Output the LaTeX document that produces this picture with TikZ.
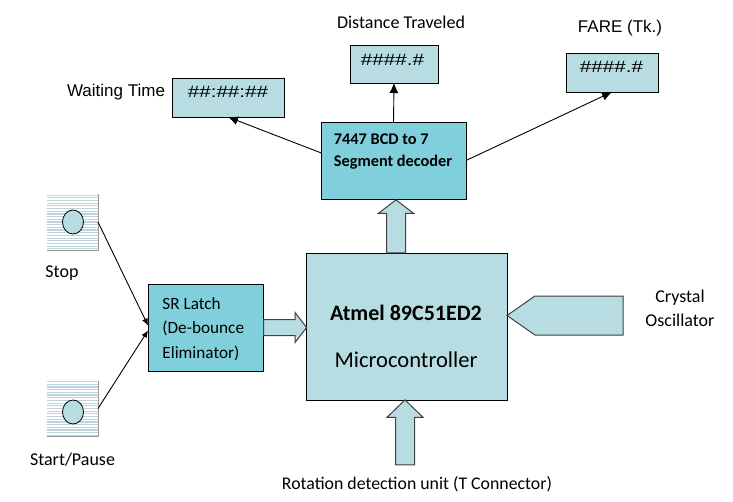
\documentclass[tikz,border=0pt]{standalone}
\usepackage{fontspec}
\setmainfont{Carlito}
\newfontfamily\arialfont{Liberation Sans}
\newfontfamily\digitfont[FakeStretch=1.25]{Liberation Sans}
\usetikzlibrary{positioning, arrows.meta, calc, shapes.arrows, shapes.symbols, shapes.geometric}
\definecolor{palebox}{HTML}{B7DDE2}
\definecolor{deepbox}{HTML}{7FD0DC}
\definecolor{stripe}{HTML}{BFD5DE}
\tikzset{
	pale/.style={draw=black, fill=palebox, line width=0.9pt, inner sep=0pt, outer sep=0pt},
	deep/.style={draw=black, fill=deepbox, line width=0.9pt, inner sep=0pt, outer sep=0pt},
	blockarrow/.style={single arrow, draw=black!75, fill=palebox, line width=1pt, inner xsep=0pt, outer sep=0pt, single arrow head indent=0pt},
	switchbox/.style={inner sep=0pt, outer sep=0pt, minimum width=51pt, minimum height=56pt},
	knob/.style={ellipse, draw=black, fill=palebox, line width=0.8pt, inner sep=0pt, minimum width=21pt, minimum height=24pt},
	lab/.style={font=\fontsize{18}{24}\selectfont, align=center},
	arlab/.style={font=\arialfont\fontsize{17}{20}\selectfont},
	digits/.style={font=\digitfont\fontsize{16.5}{20}\selectfont},
	smalltip/.style={>={Latex[length=7pt,width=6pt]}}
}
\newcommand{\stripes}[1]{%
	\fill[white] (#1.north west) rectangle (#1.south east);
	\foreach \t in {0.02,0.068,...,1}
		\draw[-, stripe, line width=1.2pt] ($(#1.north west)!\t!(#1.south west)$) -- ($(#1.north east)!\t!(#1.south east)$);
	\draw[-, black!40, line width=1pt] (#1.north east) -- (#1.south east) -- (#1.south west);
}
\begin{document}
\begin{tikzpicture}[x=1pt, y=-1pt, ->, >={Latex[length=10pt,width=9pt]}, line width=0.9pt]
	\useasboundingbox (0,0) rectangle (733,501);

	% display boxes
	\node (waiting) [pale, minimum width=112pt, minimum height=39pt] at (228,97.5) {};
	\node (distance) [pale, minimum width=88pt, minimum height=38pt] at (394,64) {};
	\node (fare) [pale, minimum width=92pt, minimum height=39pt] at (612,72.5) {};
	\node (waitingval) [digits] at (228,92) {\#\#:\#\#:\#\#};
	\node (distanceval) [digits] at (392.5,59.5) {\#\#\#\#.\#};
	\node (fareval) [digits] at (611.5,67) {\#\#\#\#.\#};
	\node (waitinglab) [arlab] at (116,92) {Waiting Time};
	\node (distancelab) [lab] at (401,22) {Distance Traveled};
	\node (farelab) [arlab] at (620,28.5) {FARE (Tk.)};

	% main blocks
	\node (decoder) [deep, minimum width=145pt, minimum height=77pt] at (393.5,160.5) {};
	\node (decodertxt) [font=\fontsize{16.3}{22.3}\selectfont\bfseries, align=left, anchor=west, inner sep=0pt] at (333.5,151.5) {7447 BCD to 7\\Segment decoder};
	\node (micro) [pale, minimum width=201pt, minimum height=147pt] at (406.5,326.5) {};
	\node (microname) [font=\fontsize{22}{26}\selectfont\bfseries] at (406,313) {Atmel 89C51ED2};
	\node (microtype) [font=\fontsize{22.6}{26}\selectfont] at (406,360) {Microcontroller};
	\node (latch) [deep, minimum width=115pt, minimum height=87pt] at (205.5,327.5) {};
	\node (latchtxt) [font=\fontsize{17.2}{24.5}\selectfont, align=left, anchor=west, inner sep=0pt] at (162,329) {SR Latch\\(De-bounce\\Eliminator)};

	% switches
	\node (stop) [switchbox] at (72.5,222) {};
	\node (start) [switchbox] at (72.5,408.5) {};
	\stripes{stop}
	\stripes{start}
	\node (stopknob) [knob] at (73,222) {};
	\node (startknob) [knob] at (73,412) {};
	\node (stoplab) [lab, below of=stop, node distance=51.5pt, xshift=-10.5pt] {Stop};
	\node (startlab) [lab, below of=start, node distance=51pt] {Start/Pause};

	% block arrows
	\node (latcharrow) [blockarrow, inner ysep=7.5pt, minimum height=43pt, minimum width=29pt, single arrow head extend=7pt, single arrow tip angle=105] at (282,327.5) {};
	\node (busarrow) [blockarrow, rotate=90, inner ysep=9pt, minimum height=53pt, minimum width=34pt, single arrow head extend=8pt, single arrow tip angle=105] at (396,230) {};
	\node (rotarrow) [blockarrow, rotate=90, inner ysep=9pt, minimum height=65pt, minimum width=35pt, single arrow head extend=8.5pt, single arrow tip angle=92] at (405,437) {};
	\node (crystal) [signal, signal to=west, signal pointer angle=70, draw=black!75, fill=palebox, line width=1pt, inner sep=0pt, outer sep=0pt, minimum width=116pt, minimum height=39pt] at (579,315.5) {};
	\node (crystallab) [lab] at (680,308) {Crystal\\Oscillator};
	\node (rotlab) [lab, font=\fontsize{17.8}{22}\selectfont] at (417,484) {Rotation detection unit (T Connector)};

	\path
		(decoder.174) edge (waiting.south)
		(decoder.north) edge (distance.south)
		(decoder.east) edge (fare.south)
		(stop.east) edge [smalltip] (latch.178)
		(start.east) edge [smalltip] (latch.183);

\end{tikzpicture}
\end{document}
